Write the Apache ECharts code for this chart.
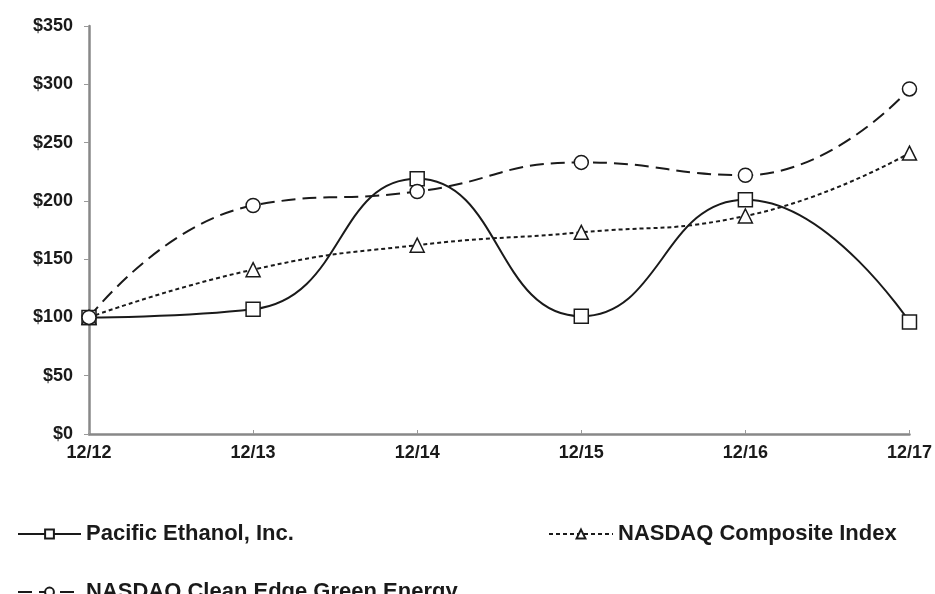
<!DOCTYPE html>
<html>
<head>
<meta charset="utf-8">
<script src="https://cdn.jsdelivr.net/npm/echarts@6/dist/echarts.min.js"></script>
<style>html,body{margin:0;padding:0;background:#fff}#c{width:935px;height:594px}</style>
</head>
<body>
<div id="c"></div>
<script>
var categories = ['12/12', '12/13', '12/14', '12/15', '12/16', '12/17'];
var pacificEthanol = [100, 107, 219, 101, 201, 96];
var nasdaqComposite = [100, 141, 162, 173, 187, 241];
var nasdaqCleanEdge = [100, 196, 208, 233, 222, 296];
var seriesNames = ['Pacific Ethanol, Inc.', 'NASDAQ Composite Index', 'NASDAQ Clean Edge Green Energy'];

var chart = echarts.init(document.getElementById('c'));
var font = 'Liberation Sans, Arial, sans-serif';
var ink = '#1a1a1a';
function mk(name, data, symbol, type, size) {
  return {
    name: name, type: 'line', data: data, smooth: 0.5,
    symbol: symbol, symbolSize: size,
    itemStyle: { color: '#fff', borderColor: ink, borderWidth: 1.5 },
    lineStyle: { color: ink, width: 2, type: type },
    emphasis: { disabled: true }
  };
}
var legendText = { fontFamily: font, fontSize: 22, fontWeight: 'bold', color: ink };
chart.setOption({
  animation: false,
  grid: { left: 89, right: 23, top: 26, bottom: 160 },
  xAxis: {
    type: 'category', data: categories, boundaryGap: false,
    axisLine: { lineStyle: { color: '#888', width: 2.5 } },
    axisTick: { inside: true, length: 4, lineStyle: { color: '#999' } },
    axisLabel: { fontFamily: font, fontSize: 18, fontWeight: 'bold', color: ink, margin: 10, interval: 0 },
    splitLine: { show: false }
  },
  yAxis: {
    type: 'value', min: 0, max: 350, interval: 50,
    axisLine: { show: true, lineStyle: { color: '#888', width: 2.5 } },
    axisTick: { show: true, length: 5, lineStyle: { color: '#999' } },
    axisLabel: { fontFamily: font, fontSize: 18, fontWeight: 'bold', color: ink, margin: 16, formatter: '${value}' },
    splitLine: { show: false }
  },
  legend: [
    { data: [seriesNames[0]], left: 12, top: 518, itemWidth: 63, itemHeight: 11, textStyle: legendText },
    { data: [seriesNames[1]], left: 543, top: 518, itemWidth: 64, itemHeight: 11, textStyle: legendText },
    { data: [seriesNames[2]], left: 12, top: 576, itemWidth: 63, itemHeight: 11, textStyle: legendText }
  ],
  series: [
    mk(seriesNames[0], pacificEthanol, 'rect', 'solid', 14),
    mk(seriesNames[1], nasdaqComposite, 'triangle', [4, 3], 14),
    mk(seriesNames[2], nasdaqCleanEdge, 'circle', [14, 7], 14)
  ]
});
</script>
</body>
</html>
